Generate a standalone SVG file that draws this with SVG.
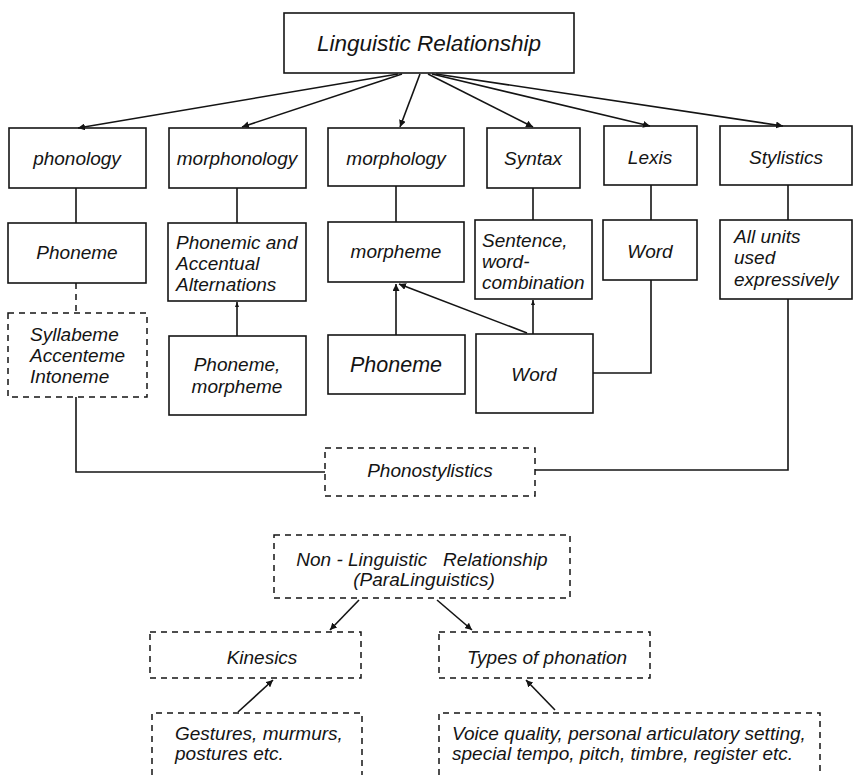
<svg xmlns="http://www.w3.org/2000/svg" width="854" height="775" viewBox="0 0 854 775">
<style>
.box{fill:none;stroke:#141414;stroke-width:1.6}
.dash{fill:none;stroke:#141414;stroke-width:1.5;stroke-dasharray:6,5}
.ln{fill:none;stroke:#141414;stroke-width:1.6}
.dl{fill:none;stroke:#141414;stroke-width:1.5;stroke-dasharray:6,5}
text{font-family:"Liberation Sans",Arial,sans-serif;font-style:italic;fill:#141414;font-size:19px}
.c{text-anchor:middle}
.title{font-size:22.5px}
.big{font-size:21.5px}
</style>
<defs>
<marker id="ah" viewBox="0 0 10 10" refX="10" refY="5" markerWidth="7" markerHeight="7" orient="auto" markerUnits="userSpaceOnUse">
<path d="M0,0 L10,5 L0,10 z" fill="#141414"/>
</marker>
<marker id="as" viewBox="0 0 10 10" refX="10" refY="5" markerWidth="5" markerHeight="5" orient="auto" markerUnits="userSpaceOnUse">
<path d="M0,1 L10,5 L0,9 z" fill="#141414"/>
</marker>
</defs>
<rect width="854" height="775" fill="#ffffff"/>

<g id="connectors">
<line class="ln" x1="398" y1="74" x2="78" y2="128" marker-end="url(#ah)"/>
<line class="ln" x1="402" y1="74" x2="242" y2="127" marker-end="url(#ah)"/>
<line class="ln" x1="420" y1="74" x2="400" y2="127" marker-end="url(#ah)"/>
<line class="ln" x1="428" y1="74" x2="533" y2="127" marker-end="url(#ah)"/>
<line class="ln" x1="432" y1="74" x2="650" y2="126" marker-end="url(#ah)"/>
<line class="ln" x1="436" y1="74" x2="783" y2="126" marker-end="url(#ah)"/>
<line class="ln" x1="76" y1="188" x2="76" y2="223"/>
<line class="ln" x1="237" y1="188" x2="237" y2="223"/>
<line class="ln" x1="396" y1="186" x2="396" y2="222"/>
<line class="ln" x1="533" y1="188" x2="533" y2="220"/>
<line class="ln" x1="651" y1="185" x2="651" y2="220"/>
<line class="ln" x1="788" y1="185" x2="788" y2="220"/>
<line class="dl" x1="76" y1="283" x2="76" y2="313"/>
<line class="ln" x1="237" y1="336" x2="237" y2="302" marker-end="url(#as)"/>
<line class="ln" x1="396" y1="335" x2="396" y2="284" marker-end="url(#ah)"/>
<line class="ln" x1="527" y1="333" x2="399" y2="284" marker-end="url(#ah)"/>
<line class="ln" x1="533" y1="334" x2="533" y2="300" marker-end="url(#as)"/>
<polyline class="ln" points="651,280 651,373 593,373"/>
<polyline class="ln" points="76,397 76,472 325,472"/>
<polyline class="ln" points="788,299 788,470 535,470"/>
<line class="ln" x1="359" y1="600" x2="330" y2="630" marker-end="url(#ah)"/>
<line class="ln" x1="437" y1="600" x2="472" y2="630" marker-end="url(#ah)"/>
<line class="ln" x1="238" y1="712" x2="273" y2="680" marker-end="url(#ah)"/>
<line class="ln" x1="555" y1="710" x2="526" y2="680" marker-end="url(#ah)"/>
</g>

<g id="linguistic">
<rect class="box" x="284" y="13" width="290" height="60"/>
<text class="c title" x="429" y="51">Linguistic Relationship</text>
</g>

<g id="phonology"><rect class="box" x="9" y="128" width="137" height="60"/><text class="c" x="77" y="165">phonology</text></g>
<g id="morphonology"><rect class="box" x="169" y="128" width="137" height="60"/><text class="c" x="237" y="165">morphonology</text></g>
<g id="morphology"><rect class="box" x="328" y="128" width="136" height="58"/><text class="c" x="396" y="165">morphology</text></g>
<g id="syntax"><rect class="box" x="487" y="128" width="93" height="60"/><text class="c" x="533" y="165">Syntax</text></g>
<g id="lexis"><rect class="box" x="604" y="126" width="93" height="59"/><text class="c" x="650" y="164">Lexis</text></g>
<g id="stylistics"><rect class="box" x="720" y="126" width="132" height="59"/><text class="c" x="786" y="164">Stylistics</text></g>

<g id="phoneme1"><rect class="box" x="8" y="223" width="138" height="60"/><text class="c" x="77" y="259">Phoneme</text></g>
<g id="alternations"><rect class="box" x="168" y="223" width="138" height="78"/><text x="176" y="249">Phonemic and</text><text x="176" y="270">Accentual</text><text x="176" y="291">Alternations</text></g>
<g id="morpheme"><rect class="box" x="328" y="222" width="136" height="60"/><text class="c" x="396" y="258">morpheme</text></g>
<g id="sentence"><rect class="box" x="475" y="220" width="117" height="79"/><text x="482" y="247">Sentence,</text><text x="482" y="268">word-</text><text x="482" y="289">combination</text></g>
<g id="word1"><rect class="box" x="603" y="220" width="94" height="60"/><text class="c" x="650" y="258">Word</text></g>
<g id="allunits"><rect class="box" x="720" y="220" width="132" height="79"/><text x="734" y="243">All units</text><text x="734" y="264">used</text><text x="734" y="286">expressively</text></g>

<g id="syllabeme"><rect class="dash" x="8" y="313" width="139" height="84"/><text x="30" y="341">Syllabeme</text><text x="30" y="362">Accenteme</text><text x="30" y="383">Intoneme</text></g>
<g id="phonemorpheme"><rect class="box" x="169" y="336" width="137" height="79"/><text class="c" x="237" y="371">Phoneme,</text><text class="c" x="237" y="393">morpheme</text></g>
<g id="phoneme2"><rect class="box" x="328" y="335" width="137" height="59"/><text class="c big" x="396" y="372">Phoneme</text></g>
<g id="word2"><rect class="box" x="476" y="334" width="117" height="79"/><text class="c" x="534" y="381">Word</text></g>

<g id="phonostylistics"><rect class="dash" x="325" y="448" width="210" height="48"/><text class="c" x="430" y="477">Phonostylistics</text></g>

<g id="nonlinguistic"><rect class="dash" x="274" y="535" width="296" height="63"/><text class="c" x="422" y="566" xml:space="preserve">Non - Linguistic   Relationship</text><text class="c" x="424" y="586">(ParaLinguistics)</text></g>
<g id="kinesics"><rect class="dash" x="150" y="632" width="211" height="46"/><text class="c" x="262" y="664">Kinesics</text></g>
<g id="phonation"><rect class="dash" x="439" y="632" width="211" height="46"/><text class="c" x="547" y="664">Types of phonation</text></g>
<g id="gestures"><path class="dash" d="M152,775 V713 H362 V775"/><text x="175" y="740">Gestures, murmurs,</text><text x="175" y="760">postures etc.</text></g>
<g id="voice"><path class="dash" d="M439,775 V713 H820 V775"/><text x="452" y="740">Voice quality, personal articulatory setting,</text><text x="452" y="760">special tempo, pitch, timbre, register etc.</text></g>
</svg>
